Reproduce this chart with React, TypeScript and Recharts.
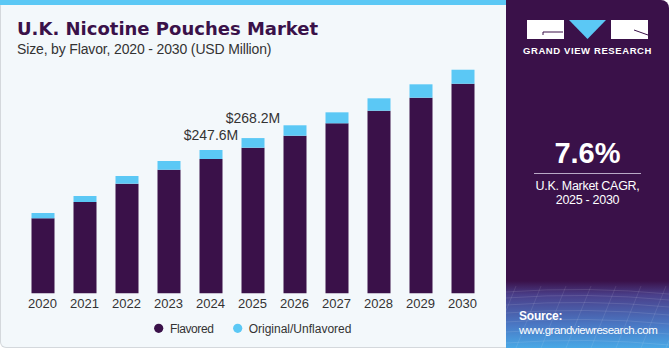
import React from "react";
import { BarChart, Bar, XAxis, YAxis, LabelList } from "recharts";

const years = ["2020", "2021", "2022", "2023", "2024", "2025", "2026", "2027", "2028", "2029", "2030"];
const flavored = [129.6, 157.7, 189.4, 213.5, 232.0, 251.6, 272.3, 293.7, 315.5, 338.0, 362.1];
const unflavored = [9.1, 10.4, 13.3, 15.1, 15.6, 16.6, 18.0, 19.0, 21.4, 23.1, 24.2];
const totalLabels = ["", "", "", "", "$247.6M", "$268.2M", "", "", "", "", ""];
const labelGaps = [0, 0, 0, 0, 10, 15, 0, 0, 0, 0, 0];

const data = years.map((y, i) => ({
  year: y,
  Flavored: flavored[i],
  Unflavored: unflavored[i],
  label: totalLabels[i],
}));

const DARK = "#3a1149";
const BLUE = "#5bc8f5";

const TopLabel = (props: any) => {
  const { x, y, width, index } = props;
  const txt = totalLabels[index];
  if (!txt) return null;
  return (
    <text
      x={x + width / 2}
      y={y - labelGaps[index]}
      textAnchor="middle"
      fontSize={14}
      fill="#333333"
      fontFamily="'Liberation Sans', Arial, sans-serif"
    >
      {txt}
    </text>
  );
};

const meshH = [292, 298, 305, 313, 322, 332, 343];
const meshV = [-40, -15, 10, 35, 60, 85, 110, 135, 160, 185, 210];

export default function App() {
  return (
    <div
      style={{
        position: "relative",
        width: 671,
        height: 350,
        overflow: "hidden",
        fontFamily: "'Liberation Sans', Arial, sans-serif",
        background: "#ffffff",
      }}
    >
      <style>{`body{margin:0}`}</style>
      {/* left panel */}
      <div
        style={{
          position: "absolute",
          left: 0,
          top: 0,
          width: 520,
          height: 348,
          background: "#f3f8fb",
          borderRadius: "6px",
          border: "1px solid #d4d8dc",
          borderTop: "none",
          boxSizing: "border-box",
        }}
      />
      <div style={{ position: "absolute", left: 0, top: 0, width: 510, height: 5, background: BLUE }} />
      <div
        style={{
          position: "absolute",
          left: 17,
          top: 18,
          fontFamily: "'DejaVu Sans', sans-serif",
          fontWeight: 700,
          fontSize: 18,
          color: DARK,
          whiteSpace: "nowrap",
        }}
      >
        U.K. Nicotine Pouches Market
      </div>
      <div
        style={{
          position: "absolute",
          left: 17,
          top: 41,
          fontSize: 14,
          color: "#333333",
          whiteSpace: "nowrap",
          letterSpacing: -0.15,
        }}
      >
        Size, by Flavor, 2020 - 2030 (USD Million)
      </div>

      <div style={{ position: "absolute", left: 0, top: 0 }}>
        <BarChart
          width={500}
          height={350}
          data={data}
          margin={{ top: 61.8, right: 16.5, left: 21.5, bottom: 36.7 }}
        >
          <XAxis
            dataKey="year"
            axisLine={false}
            tickLine={false}
            tickSize={0}
            tickMargin={5}
            height={20}
            interval={0}
            tick={{ fontSize: 13, fill: "#333333" }}
          />
          <YAxis hide domain={[0, 400]} />
          <Bar dataKey="Flavored" stackId="a" fill={DARK} barSize={23} isAnimationActive={false} />
          <Bar dataKey="Unflavored" stackId="a" fill={BLUE} barSize={23} isAnimationActive={false}>
            <LabelList dataKey="label" content={TopLabel} />
          </Bar>
        </BarChart>
      </div>

      {/* legend */}
      <svg width={260} height={20} style={{ position: "absolute", left: 140, top: 318 }}>
        <circle cx={18.7} cy={10.3} r={4.6} fill={DARK} />
        <text x={30} y={14.5} fontSize={12} fill="#333333" letterSpacing={-0.4}>
          Flavored
        </text>
        <circle cx={97.7} cy={10.3} r={4.6} fill={BLUE} />
        <text x={108.7} y={14.5} fontSize={12} fill="#333333">
          Original/Unflavored
        </text>
      </svg>

      {/* right panel */}
      <div
        style={{
          position: "absolute",
          left: 506,
          top: 0,
          width: 163,
          height: 348,
          borderTopRightRadius: 8,
          overflow: "hidden",
          background:
            "linear-gradient(180deg, #3a1149 0px, #3a1149 281px, #4a3f8a 295px, #4a78c4 325px, #48a8e6 348px)",
        }}
      >
        <svg width={163} height={348} style={{ position: "absolute", left: 0, top: 0 }}>
          {meshH.map((yy, i) => (
            <path
              key={"h" + i}
              d={`M0 ${yy} Q81 ${yy - 6} 163 ${yy + 2}`}
              stroke="#ffffff"
              strokeOpacity={0.14}
              strokeWidth={0.8}
              fill="none"
            />
          ))}
          {meshV.map((xx, i) => (
            <path
              key={"v" + i}
              d={`M${xx + 25} 286 L${xx} 348`}
              stroke="#ffffff"
              strokeOpacity={0.12}
              strokeWidth={0.8}
              fill="none"
            />
          ))}
          {/* logo */}
          <rect x={21} y={20} width={37} height={19} fill="#ffffff" />
          <path d="M37 35 L37 32 L57 32" stroke={DARK} strokeWidth={1} fill="none" />
          <polygon points="63,20 100,20 81.5,39" fill={BLUE} />
          <rect x={105} y={20} width={37} height={19} fill="#ffffff" />
          <path d="M128 30 L142 35" stroke={DARK} strokeWidth={1} fill="none" />
          <text
            x={81.5}
            y={54}
            textAnchor="middle"
            fill="#ffffff"
            fontSize={9.5}
            fontWeight={700}
            letterSpacing={0.6}
            fontFamily="'Liberation Sans', Arial, sans-serif"
          >
            GRAND VIEW RESEARCH
          </text>
        </svg>
        <div
          style={{
            position: "absolute",
            left: 0,
            width: 163,
            top: 137,
            textAlign: "center",
            color: "#ffffff",
            fontWeight: 700,
            fontSize: 29,
          }}
        >
          7.6%
        </div>
        <div style={{ position: "absolute", left: 28, top: 173, width: 107, height: 1, background: "#b9a9c6" }} />
        <div
          style={{
            position: "absolute",
            left: 0,
            width: 163,
            top: 179,
            textAlign: "center",
            color: "#ffffff",
            fontSize: 12.5,
            letterSpacing: -0.3,
            lineHeight: "14px",
          }}
        >
          U.K. Market CAGR,
          <br />
          2025 - 2030
        </div>
        <div
          style={{
            position: "absolute",
            left: 13,
            top: 309,
            color: "#ffffff",
            fontSize: 11.5,
            letterSpacing: -0.45,
            lineHeight: "14px",
          }}
        >
          <div style={{ fontWeight: 700, fontSize: 12, letterSpacing: -0.2 }}>Source:</div>
          <div>www.grandviewresearch.com</div>
        </div>
      </div>
    </div>
  );
}
